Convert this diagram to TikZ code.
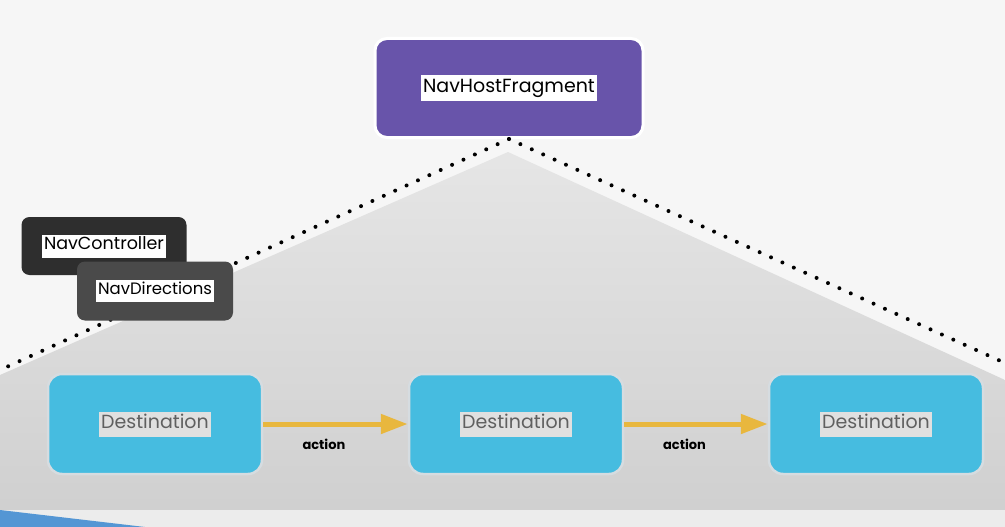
\documentclass[tikz,border=0pt]{standalone}
\usepackage{fontspec}
\setmainfont{Poppins}
\usetikzlibrary{positioning}
\usetikzlibrary{arrows.meta}
\definecolor{hostpurple}{RGB}{104,84,170}
\definecolor{ctrlgray}{RGB}{46,46,46}
\definecolor{dirgray}{RGB}{74,74,74}
\definecolor{destblue}{RGB}{70,188,224}
\definecolor{destedge}{RGB}{214,220,224}
\definecolor{destlabel}{RGB}{96,96,96}
\definecolor{destmark}{RGB}{224,224,224}
\definecolor{actionyellow}{RGB}{232,183,62}
\definecolor{cornerblue}{RGB}{84,150,212}
\newcommand{\marktext}[2]{{\setlength{\fboxsep}{2pt}\colorbox{#1}{\strut #2}}}
\tikzset{dotline/.style={line width=4pt,line cap=round,dash pattern=on 0pt off 12.5pt}}

\begin{document}
\begin{tikzpicture}[x=1pt,y=-1pt]
    \useasboundingbox (0,0) rectangle (1005,527);
    % background
    \fill[gray!7] (0,0) rectangle (1005,527);
    \shade[top color=gray!20, bottom color=gray!37] (508,152) -- (1005,380) -- (1005,510) -- (0,510) -- (0,375) -- cycle;
    \fill[gray!15] (0,510) rectangle (1005,527);
    \fill[cornerblue] (0,510) -- (145,527) -- (0,527) -- cycle;

    \node[shape=rectangle,rounded corners=12pt,fill=hostpurple,draw=white,line width=3pt,minimum width=268pt,minimum height=99pt,font=\fontsize{19}{21}\selectfont] (host) at (509,88) {\marktext{white}{NavHostFragment}};

    \coordinate (left_end) at (0,370);
    \coordinate (right_end) at (1005,363);
    \draw [dotline] (host.south) -- (left_end);
    \draw [dotline] (host.south) -- (right_end);

    \node[shape=rectangle,rounded corners=8pt,fill=ctrlgray,minimum width=165pt,minimum height=58pt,font=\fontsize{17.5}{19}\selectfont] (nav_ctrl) at (104,246) {\marktext{white}{NavController}};
    \node[shape=rectangle,rounded corners=8pt,fill=dirgray,minimum width=156pt,minimum height=59pt,font=\fontsize{16.5}{18}\selectfont] (nav_dir) at (155,291) {\marktext{white}{NavDirections}};

    \node[shape=rectangle,rounded corners=14pt,fill=destblue,draw=destedge,line width=2.5pt,minimum width=214pt,minimum height=100pt,font=\fontsize{19}{21}\selectfont,text=destlabel] (dest_a) at (155,424) {\marktext{destmark}{Destination}};
    \node[shape=rectangle,rounded corners=14pt,fill=destblue,draw=destedge,line width=2.5pt,minimum width=214pt,minimum height=100pt,font=\fontsize{19}{21}\selectfont,text=destlabel] (dest_b) at (516,424) {\marktext{destmark}{Destination}};
    \node[shape=rectangle,rounded corners=14pt,fill=destblue,draw=destedge,line width=2.5pt,minimum width=214pt,minimum height=100pt,font=\fontsize{19}{21}\selectfont,text=destlabel] (dest_c) at (876,424) {\marktext{destmark}{Destination}};

    \draw [actionyellow,line width=5pt,-{Triangle[length=27pt, width=19pt]}] (dest_a.east) -- node[below=9pt,pos=0.42,text=black,font=\fontsize{13}{15}\selectfont\bfseries] (act_ab) {action} (dest_b.west);
    \draw [actionyellow,line width=5pt,-{Triangle[length=27pt, width=19pt]}] (dest_b.east) -- node[below=9pt,pos=0.42,text=black,font=\fontsize{13}{15}\selectfont\bfseries] (act_bc) {action} (dest_c.west);
\end{tikzpicture}
\end{document}
